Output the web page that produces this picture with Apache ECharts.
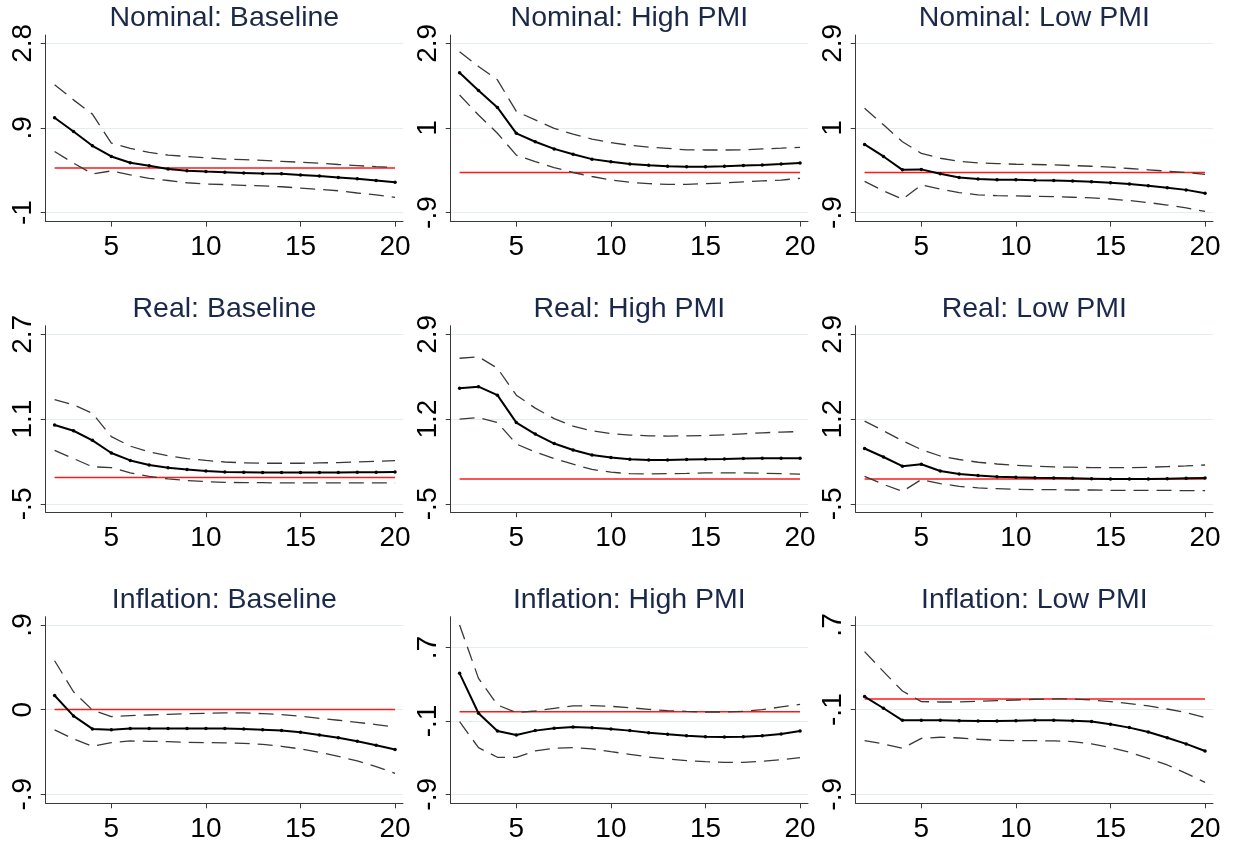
<!DOCTYPE html>
<html>
<head>
<meta charset="utf-8">
<title>Impulse responses</title>
<script src="https://cdn.jsdelivr.net/npm/echarts@6/dist/echarts.min.js"></script>
<style>
  html, body { margin: 0; padding: 0; background: #ffffff; }
  #chart { width: 1233px; height: 848px; }
</style>
</head>
<body>
<div id="chart"></div>
<script>
// Horizons of the impulse responses
const horizons = [2, 3, 4, 5, 6, 7, 8, 9, 10, 11, 12, 13, 14, 15, 16, 17, 18, 19, 20];
const xTicks = [5, 10, 15, 20];

// Nominal
const nominalBaseIrf   = [1.13, 0.82, 0.50, 0.26, 0.12, 0.05, -0.02, -0.06, -0.08, -0.095, -0.11, -0.125, -0.13, -0.155, -0.18, -0.21, -0.24, -0.28, -0.32];
const nominalBaseUpper = [1.87, 1.53, 1.21, 0.56, 0.44, 0.35, 0.29, 0.26, 0.23, 0.20, 0.19, 0.17, 0.15, 0.13, 0.11, 0.08, 0.055, 0.03, 0.01];
const nominalBaseLower = [0.37, 0.11, -0.13, -0.065, -0.155, -0.23, -0.28, -0.33, -0.36, -0.37, -0.39, -0.40, -0.42, -0.45, -0.48, -0.51, -0.56, -0.60, -0.66];
const nominalBaseTicks = [-1, 0.9, 2.8];

const nominalHighIrf   = [2.24, 1.84, 1.46, 0.88, 0.69, 0.53, 0.41, 0.30, 0.24, 0.19, 0.16, 0.14, 0.13, 0.13, 0.14, 0.155, 0.17, 0.19, 0.215];
const nominalHighUpper = [2.71, 2.38, 2.08, 1.37, 1.18, 0.99, 0.86, 0.75, 0.67, 0.61, 0.57, 0.54, 0.51, 0.505, 0.505, 0.51, 0.53, 0.545, 0.565];
const nominalHighLower = [1.74, 1.29, 0.88, 0.39, 0.245, 0.11, 0.0, -0.09, -0.17, -0.22, -0.25, -0.265, -0.265, -0.25, -0.235, -0.21, -0.19, -0.17, -0.13];
const nominalHighTicks = [-0.9, 1, 2.9];

const nominalLowIrf   = [0.63, 0.36, 0.06, 0.07, -0.03, -0.11, -0.145, -0.16, -0.165, -0.175, -0.18, -0.19, -0.205, -0.23, -0.26, -0.295, -0.34, -0.39, -0.465];
const nominalLowUpper = [1.44, 1.07, 0.69, 0.43, 0.32, 0.25, 0.215, 0.20, 0.185, 0.18, 0.17, 0.155, 0.14, 0.12, 0.09, 0.06, 0.03, 0.0, -0.04];
const nominalLowLower = [-0.20, -0.41, -0.60, -0.28, -0.37, -0.45, -0.50, -0.52, -0.525, -0.535, -0.54, -0.555, -0.57, -0.595, -0.63, -0.675, -0.73, -0.795, -0.875];
const nominalLowTicks = [-0.9, 1, 2.9];

// Real
const realBaseIrf   = [0.99, 0.88, 0.70, 0.46, 0.32, 0.235, 0.18, 0.15, 0.12, 0.10, 0.096, 0.09, 0.09, 0.09, 0.09, 0.09, 0.096, 0.096, 0.10];
const realBaseUpper = [1.47, 1.37, 1.21, 0.77, 0.59, 0.48, 0.41, 0.355, 0.32, 0.29, 0.275, 0.267, 0.267, 0.267, 0.273, 0.28, 0.29, 0.305, 0.317];
const realBaseLower = [0.51, 0.355, 0.20, 0.185, 0.085, 0.02, -0.03, -0.06, -0.08, -0.093, -0.10, -0.10, -0.105, -0.105, -0.105, -0.105, -0.105, -0.105, -0.105];
const realBaseTicks = [-0.5, 1.1, 2.7];

const realHighIrf   = [1.82, 1.85, 1.68, 1.13, 0.90, 0.71, 0.58, 0.48, 0.43, 0.395, 0.38, 0.38, 0.39, 0.395, 0.40, 0.41, 0.415, 0.415, 0.415];
const realHighUpper = [2.42, 2.45, 2.22, 1.68, 1.42, 1.21, 1.06, 0.965, 0.91, 0.88, 0.865, 0.86, 0.865, 0.87, 0.885, 0.905, 0.925, 0.94, 0.95];
const realHighLower = [1.20, 1.23, 1.13, 0.70, 0.54, 0.41, 0.295, 0.19, 0.135, 0.105, 0.10, 0.105, 0.11, 0.12, 0.12, 0.12, 0.115, 0.105, 0.095];
const realHighTicks = [-0.5, 1.2, 2.9];

const realLowIrf   = [0.61, 0.44, 0.255, 0.295, 0.16, 0.10, 0.067, 0.046, 0.033, 0.026, 0.02, 0.013, 0.006, 0.0, 0.0, 0.0, 0.006, 0.013, 0.02];
const realLowUpper = [1.16, 0.965, 0.765, 0.59, 0.46, 0.39, 0.335, 0.30, 0.275, 0.255, 0.24, 0.235, 0.227, 0.227, 0.227, 0.234, 0.248, 0.26, 0.28];
const realLowLower = [0.053, -0.11, -0.25, -0.013, -0.094, -0.148, -0.18, -0.195, -0.208, -0.215, -0.215, -0.222, -0.222, -0.229, -0.229, -0.229, -0.229, -0.235, -0.235];
const realLowTicks = [-0.5, 1.2, 2.9];

// Inflation
const inflBaseIrf   = [0.15, -0.067, -0.205, -0.213, -0.202, -0.202, -0.202, -0.202, -0.202, -0.202, -0.206, -0.213, -0.223, -0.241, -0.269, -0.30, -0.337, -0.379, -0.425];
const inflBaseUpper = [0.52, 0.19, -0.004, -0.074, -0.064, -0.057, -0.05, -0.043, -0.039, -0.035, -0.035, -0.043, -0.053, -0.071, -0.092, -0.113, -0.135, -0.159, -0.184];
const inflBaseLower = [-0.216, -0.312, -0.39, -0.351, -0.333, -0.337, -0.34, -0.347, -0.351, -0.354, -0.358, -0.369, -0.39, -0.418, -0.454, -0.496, -0.546, -0.606, -0.677];
const inflBaseTicks = [-0.9, 0, 0.9];

const inflHighIrf   = [0.42, -0.016, -0.209, -0.253, -0.205, -0.18, -0.165, -0.173, -0.187, -0.205, -0.227, -0.245, -0.26, -0.271, -0.275, -0.271, -0.26, -0.242, -0.209];
const inflHighUpper = [0.947, 0.365, 0.075, -0.009, 0.009, 0.038, 0.064, 0.067, 0.06, 0.045, 0.027, 0.013, 0.005, -0.002, -0.002, 0.005, 0.024, 0.053, 0.082];
const inflHighLower = [-0.107, -0.391, -0.496, -0.496, -0.427, -0.398, -0.391, -0.405, -0.435, -0.464, -0.493, -0.515, -0.533, -0.544, -0.551, -0.551, -0.54, -0.522, -0.50];
const inflHighTicks = [-0.9, -0.1, 0.7];

const inflLowIrf   = [0.023, -0.087, -0.201, -0.201, -0.201, -0.204, -0.207, -0.207, -0.204, -0.201, -0.201, -0.204, -0.213, -0.239, -0.27, -0.311, -0.365, -0.424, -0.491];
const inflLowUpper = [0.448, 0.259, 0.076, -0.024, -0.028, -0.028, -0.021, -0.015, -0.009, -0.002, 0.001, 0.001, -0.009, -0.024, -0.043, -0.065, -0.094, -0.128, -0.176];
const inflLowLower = [-0.393, -0.424, -0.465, -0.371, -0.361, -0.368, -0.38, -0.39, -0.393, -0.393, -0.396, -0.402, -0.424, -0.459, -0.503, -0.56, -0.623, -0.702, -0.787];
const inflLowTicks = [-0.9, -0.1, 0.7];

// Panel definitions: title, series, ticks and the vertical range of each plot region
const panels = [
  { title: 'Nominal: Baseline',   irf: nominalBaseIrf, upper: nominalBaseUpper, lower: nominalBaseLower, ticks: nominalBaseTicks, range: [-1.202, 2.986] },
  { title: 'Nominal: High PMI',   irf: nominalHighIrf, upper: nominalHighUpper, lower: nominalHighLower, ticks: nominalHighTicks, range: [-1.102, 3.086] },
  { title: 'Nominal: Low PMI',    irf: nominalLowIrf,  upper: nominalLowUpper,  lower: nominalLowLower,  ticks: nominalLowTicks,  range: [-1.102, 3.086] },
  { title: 'Real: Baseline',      irf: realBaseIrf,    upper: realBaseUpper,    lower: realBaseLower,    ticks: realBaseTicks,    range: [-0.659, 2.863] },
  { title: 'Real: High PMI',      irf: realHighIrf,    upper: realHighUpper,    lower: realHighLower,    ticks: realHighTicks,    range: [-0.669, 3.073] },
  { title: 'Real: Low PMI',       irf: realLowIrf,     upper: realLowUpper,     lower: realLowLower,     ticks: realLowTicks,     range: [-0.669, 3.073] },
  { title: 'Inflation: Baseline', irf: inflBaseIrf,    upper: inflBaseUpper,    lower: inflBaseLower,    ticks: inflBaseTicks,    range: [-0.996, 0.988] },
  { title: 'Inflation: High PMI', irf: inflHighIrf,    upper: inflHighUpper,    lower: inflHighLower,    ticks: inflHighTicks,    range: [-0.998, 1.038] },
  { title: 'Inflation: Low PMI',  irf: inflLowIrf,     upper: inflLowUpper,     lower: inflLowLower,     ticks: inflLowTicks,     range: [-0.985, 0.778] }
];

const FONT = '"Liberation Sans", Arial, sans-serif';
const colLeft = [45.7, 450.7, 855.7];
const rowTop = [35, 325.7, 616.7];
const plotW = 357.3;
const plotH = 186.6;
const X_MIN = 1.53, X_MAX = 20.42;

// Stata-style number labels: ".9", "-.5", "2.8"
function stataNum(v) {
  const s = String(Math.round(v * 100) / 100);
  return s.replace(/^(-?)0\./, '$1.');
}
const pairs = arr => horizons.map((h, k) => [h, arr[k]]);

const grid = [], xAxis = [], yAxis = [], series = [], title = [];

panels.forEach((p, i) => {
  const r = Math.floor(i / 3), c = i % 3;
  grid.push({ left: colLeft[c], top: rowTop[r], width: plotW, height: plotH, containLabel: false });

  title.push({
    text: p.title,
    left: colLeft[c] + plotW / 2,
    top: rowTop[r] - 31,
    textAlign: 'center',
    padding: 0,
    textStyle: { fontFamily: FONT, fontSize: 28.5, fontWeight: 'normal', color: '#1a2849' }
  });

  xAxis.push({
    type: 'value', gridIndex: i, min: X_MIN, max: X_MAX,
    axisLine: { show: true, onZero: false, lineStyle: { color: '#3a3a3a', width: 1 } },
    axisTick: { show: true, customValues: xTicks, length: 5, lineStyle: { color: '#3a3a3a' } },
    axisLabel: { customValues: xTicks, fontFamily: FONT, fontSize: 28, color: '#000', margin: 12 },
    splitLine: { show: false }
  });

  yAxis.push({
    type: 'value', gridIndex: i, min: p.range[0], max: p.range[1],
    axisLine: { show: true, onZero: false, lineStyle: { color: '#3a3a3a', width: 1 } },
    axisTick: { show: true, customValues: p.ticks, length: 5, lineStyle: { color: '#3a3a3a' } },
    axisLabel: { customValues: p.ticks, rotate: 90, fontFamily: FONT, fontSize: 28, color: '#000', margin: 8,
                 formatter: v => stataNum(v) },
    splitLine: { show: true, lineStyle: { color: '#e4eded', width: 1 } }
  });

  // zero reference line
  series.push({
    type: 'line', xAxisIndex: i, yAxisIndex: i, data: [[2, 0], [20, 0]],
    symbol: 'none', silent: true, z: 2,
    lineStyle: { color: '#ff1a1a', width: 1.5 }
  });
  // confidence bands
  [p.upper, p.lower].forEach(band => {
    series.push({
      type: 'line', xAxisIndex: i, yAxisIndex: i, data: pairs(band),
      symbol: 'none', silent: true, z: 3,
      lineStyle: { color: '#383838', width: 1.3, type: [15, 8] }
    });
  });
  // point estimate
  series.push({
    type: 'line', xAxisIndex: i, yAxisIndex: i, data: pairs(p.irf),
    symbol: 'circle', symbolSize: 3.5, silent: true, z: 4,
    itemStyle: { color: '#000' },
    lineStyle: { color: '#000', width: 2 }
  });
});

const chart = echarts.init(document.getElementById('chart'), null, { renderer: 'canvas' });
chart.setOption({
  animation: false,
  backgroundColor: '#ffffff',
  title, grid, xAxis, yAxis, series
});
</script>
</body>
</html>
